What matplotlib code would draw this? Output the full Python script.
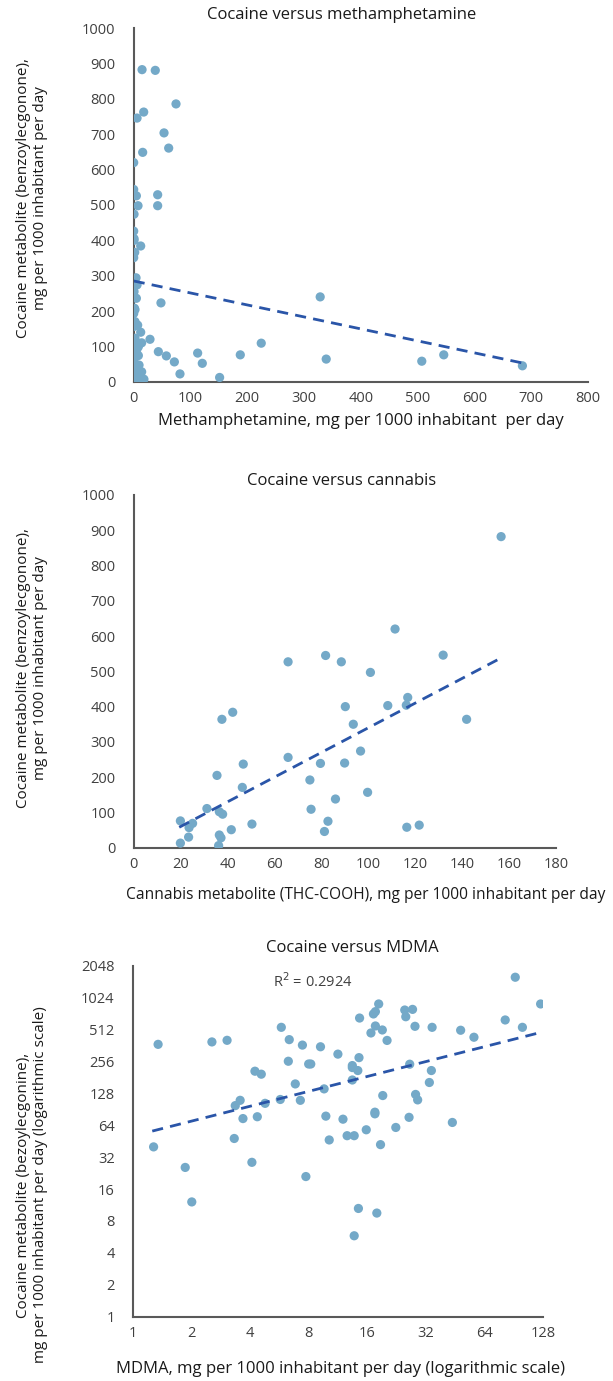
import matplotlib
matplotlib.use("Agg")
import matplotlib.pyplot as plt
from matplotlib.ticker import FixedLocator, FixedFormatter
import numpy as np

plt.rcParams["font.family"] = ["Open Sans", "DejaVu Sans"]

# ===== data =====
meth_x = [14.7, 38, 74.5, 17.6, 5.9, 53.4, 61.6, 15.8, 0, 0, 4.7, 42.2, 42.2, 7.6, 0.6,
          0, 0.6, 0.6, 12.3, 1.8, 0, 4.1, 5.9, 0.6, 0, 4.7, 48, 1.2, 2.3, 0,
          2.3, 7, 0, 12.3, 28.7, 2.3, 14, 0, 8.2, 5.3, 43.4, 57.5, 112.6, 71.6, 120.8,
          187.7, 224.6, 328.4, 339, 81.5, 151.3, 507.3, 546, 684.5, 1.2, 8.2, 0.6, 9.4, 0, 14,
          0, 5.9, 18, 11, 3.5]
meth_coc = [883, 881, 786, 763, 746, 704, 661, 649, 620, 544, 526, 529, 498, 498, 474,
            426, 405, 400, 384, 366, 351, 294, 274, 255, 238, 236, 223, 208, 204, 193,
            170, 160, 156, 140, 120, 123, 110, 107, 99, 90, 85, 73, 81, 56, 52,
            76, 109, 240, 64, 22, 12, 58, 76, 45, 75, 74, 57, 47, 33, 28,
            12, 5, 7, 3, 19]
meth_trend = (285, -0.339)      # intercept, slope
meth_trend_x = (0, 688)

can_x = [156.6, 111.4, 81.8, 131.9, 65.8, 88.5, 100.9, 116.8, 116.2, 108.3, 90.2, 42.2, 37.6, 141.9,
         93.6, 96.7, 65.8, 46.7, 79.6, 89.9, 35.5, 75.1, 46.3, 99.7, 86, 31.2, 75.6, 36.5,
         37.9, 19.9, 25.1, 23.6, 82.8, 50.4, 41.6, 81.3, 116.4, 121.7, 23.4, 36.5, 37.2, 19.9, 36.2]
can_coc = [882, 620, 545, 546, 527, 527, 497, 426, 404, 403, 400, 384, 364, 364,
           350, 274, 256, 237, 239, 240, 205, 192, 171, 157, 138, 111, 109, 102,
           95, 76, 69, 57, 75, 67, 51, 46, 58, 64, 30, 36, 28, 13, 6]
can_trend = (-10, 3.50)
can_trend_x = (19.4, 157)

mdma_x = [91.9, 124, 18.3, 17.6, 17.2, 24.9, 27.3, 25.2, 14.6, 28.1, 34.4, 81.6, 100, 48.2, 56.4,
          5.79, 17.6, 19.1, 16.7, 20.2, 6.36, 7.43, 9.2, 1.35, 2.55, 3.05, 11.3, 14.5, 6.29,
          8.0, 8.2, 13.4, 13.4, 14.3, 26.4, 34.1, 4.24, 4.57, 13.4, 33.3, 6.83, 9.6, 28.3,
          29, 19.2, 3.56, 3.36, 4.78, 5.72, 7.25, 17.5, 17.5, 9.8, 12.0, 26.2, 43.7, 3.68,
          4.36, 22.4, 15.8, 12.6, 13.7, 10.2, 18.7, 3.32, 1.28, 1.86, 4.09, 7.74, 2.01, 14.4,
          17.9, 13.7]
mdma_coc = [1594, 892, 892, 755, 718, 782, 793, 676, 657, 549, 537, 630, 537, 504, 433,
            537, 553, 507, 475, 404, 411, 365, 352, 371, 391, 405, 300, 278, 257,
            242, 242, 234, 224, 210, 241, 210, 207, 194, 171, 162, 157, 141, 125,
            111, 122, 110, 98, 103, 112, 110, 85, 82, 78, 73, 76, 68, 74,
            77, 61, 58, 51, 51, 46.5, 42, 48, 40, 25.6, 28.6, 21, 12.1, 10.5,
            9.5, 5.8]
mdma_trend = (50.6, 0.467)      # power trend y = a * x^b
mdma_trend_x = (1.26, 127)

dot_color = "#74A9C8"
line_color = "#2A55A8"
text_color = "#1a1a1a"
tick_color = "#404040"

W, H = 613, 1381
fig = plt.figure(figsize=(W / 100, H / 100), dpi=100)


def px_axes(left, right, top, bottom):
    return fig.add_axes([left / W, 1 - bottom / H, (right - left) / W, (bottom - top) / H])


def style(ax):
    for s in ["top", "right"]:
        ax.spines[s].set_visible(False)
    for s in ["left", "bottom"]:
        ax.spines[s].set_color("#595959")
        ax.spines[s].set_linewidth(1.5)
    ax.tick_params(length=0, labelsize=10.5, labelcolor=tick_color)
    ax.tick_params(axis="y", pad=13)
    ax.tick_params(axis="x", pad=7)


def scatter(ax, x, y):
    ax.scatter(x, y, s=44, color=dot_color, edgecolors="none", zorder=3)


ylab1 = "Cocaine metabolite (benzoylecgonone),\nmg per 1000 inhabitant per day"
title_fs = 12
label_fs = 12
ylabel_fs = 11

# ===== 1: methamphetamine =====
ax1 = px_axes(133.7, 588, 28.3, 381.7)
scatter(ax1, meth_x, meth_coc)
tx = np.array(meth_trend_x)
ax1.plot(tx, meth_trend[0] + meth_trend[1] * tx, color=line_color, lw=2,
         ls=(0, (4, 2.6)), zorder=4)
ax1.set_xlim(0, 800)
ax1.set_ylim(0, 1000)
ax1.set_xticks(range(0, 801, 100))
ax1.set_yticks(range(0, 1001, 100))
style(ax1)
fig.text(342 / W, 1 - 15 / H, "Cocaine versus methamphetamine", ha="center", va="center",
         fontsize=title_fs, color=text_color)
fig.text(361 / W, 1 - 421 / H, "Methamphetamine, mg per 1000 inhabitant  per day",
         ha="center", va="center", fontsize=label_fs, color=text_color)
fig.text(32 / W, 1 - 198 / H, ylab1, ha="center", va="center", rotation=90,
         fontsize=ylabel_fs, color=text_color, linespacing=1.1)

# ===== 2: cannabis =====
ax2 = px_axes(133.7, 556, 495, 847.7)
scatter(ax2, can_x, can_coc)
tx = np.array(can_trend_x)
ax2.plot(tx, can_trend[0] + can_trend[1] * tx, color=line_color, lw=2,
         ls=(0, (4, 2.6)), zorder=4)
ax2.set_xlim(0, 180)
ax2.set_ylim(0, 1000)
ax2.set_xticks(range(0, 181, 20))
ax2.set_yticks(range(0, 1001, 100))
style(ax2)
fig.text(342 / W, 1 - 481 / H, "Cocaine versus cannabis", ha="center", va="center",
         fontsize=title_fs, color=text_color)
fig.text(366 / W, 1 - 895 / H, "Cannabis metabolite (THC-COOH), mg per 1000 inhabitant per day",
         ha="center", va="center", fontsize=11.2, color=text_color)
fig.text(32 / W, 1 - 668 / H, ylab1, ha="center", va="center", rotation=90,
         fontsize=ylabel_fs, color=text_color, linespacing=1.1)

# ===== 3: MDMA (log2 axes) =====
ax3 = px_axes(132.7, 543.3, 965.7, 1316.7)
scatter(ax3, mdma_x, mdma_coc)
tx = np.geomspace(*mdma_trend_x, 50)
ax3.plot(tx, mdma_trend[0] * tx ** mdma_trend[1], color=line_color, lw=2,
         ls=(0, (4, 2.6)), zorder=4)
ax3.set_xscale("log", base=2)
ax3.set_yscale("log", base=2)
ax3.set_xlim(1, 128)
ax3.set_ylim(1, 2048)
xt = [2 ** i for i in range(8)]
yt = [2 ** i for i in range(12)]
ax3.xaxis.set_major_locator(FixedLocator(xt))
ax3.xaxis.set_major_formatter(FixedFormatter([str(v) for v in xt]))
ax3.yaxis.set_major_locator(FixedLocator(yt))
ax3.yaxis.set_major_formatter(FixedFormatter([str(v) for v in yt]))
ax3.xaxis.set_minor_locator(FixedLocator([]))
ax3.yaxis.set_minor_locator(FixedLocator([]))
style(ax3)
ax3.text(5.27, 1450, "R$^2$ = 0.2924", ha="left", va="center", fontsize=10.5, color=tick_color)
fig.text(352 / W, 1 - 948 / H, "Cocaine versus MDMA", ha="center", va="center",
         fontsize=title_fs, color=text_color)
fig.text(340 / W, 1 - 1369 / H, "MDMA, mg per 1000 inhabitant per day (logarithmic scale)",
         ha="center", va="center", fontsize=label_fs, color=text_color)
fig.text(32 / W, 1 - 1185 / H,
         "Cocaine metabolite (bezoylecgonine),\nmg per 1000 inhabitant per day (logarithmic scale)",
         ha="center", va="center", rotation=90, fontsize=ylabel_fs, color=text_color, linespacing=1.1)

fig.savefig("out.png", dpi=100)
